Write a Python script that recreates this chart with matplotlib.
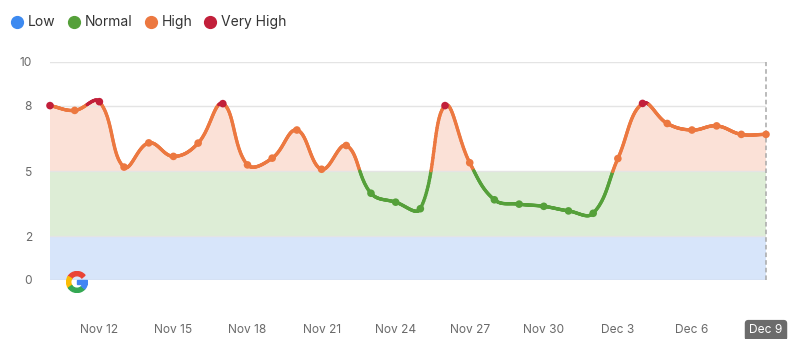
import numpy as np
import pandas as pd
import matplotlib
matplotlib.use("Agg")
import matplotlib.pyplot as plt
from matplotlib.collections import LineCollection
from matplotlib.patches import Wedge, Rectangle
from matplotlib.lines import Line2D

plt.rcParams['font.family'] = ['Inter', 'DejaVu Sans']

# Daily volatility score
dates = pd.date_range("2023-11-10", "2023-12-09", freq="D")
values = [8.0, 7.78, 8.18, 5.18, 6.29, 5.67, 6.28, 8.09, 5.28, 5.59,
          6.88, 5.08, 6.17, 3.98, 3.57, 3.27, 8.0, 5.38, 3.68, 3.48,
          3.38, 3.17, 3.06, 5.57, 8.10, 7.18, 6.88, 7.07, 6.68, 6.68]
tick_dates = dates[2::3]
tick_labels = [f"{d:%b} {d.day}" for d in tick_dates]

legend_labels = ["Low", "Normal", "High", "Very High"]
level_colors = ["#3D8AF0", "#55A03A", "#EC7840", "#C21F3A"]
band_colors = ["#D7E5FA", "#DDEDD6", "#FBE1D7"]
y_ticks = [0, 2, 5, 8, 10]


def level_color(v, hi=8.0):
    if v >= hi:
        return level_colors[3]
    if v > 5:
        return level_colors[2]
    if v > 2:
        return level_colors[1]
    return level_colors[0]


W, H = 800, 339
fig = plt.figure(figsize=(W / 100, H / 100), dpi=100)
ax = fig.add_axes([50 / W, 1 - 280 / H, 716 / W, 218 / H])

x = np.arange(len(values), dtype=float)
y = np.asarray(values, dtype=float)

# Smooth bezier curve through the points (tension 0.4), computed in pixel space
sx, sy = 716 / (len(values) - 1), 21.8
px, py = x * sx, y * sy
tension = 0.4
cp_prev = np.zeros((len(x), 2))
cp_next = np.zeros((len(x), 2))
for i in range(len(x)):
    p = np.array([px[i], py[i]])
    a = np.array([px[max(i - 1, 0)], py[max(i - 1, 0)]])
    b = np.array([px[min(i + 1, len(x) - 1)], py[min(i + 1, len(x) - 1)]])
    d01 = np.hypot(*(p - a))
    d12 = np.hypot(*(b - p))
    tot = d01 + d12 if d01 + d12 > 0 else 1
    fa = tension * d01 / tot
    fb = tension * d12 / tot
    cp_prev[i] = p - fa * (b - a)
    cp_next[i] = p + fb * (b - a)

t = np.linspace(0, 1, 40)[:, None]
curve = []
for i in range(len(x) - 1):
    p0 = np.array([px[i], py[i]])
    p3 = np.array([px[i + 1], py[i + 1]])
    c1, c2 = cp_next[i], cp_prev[i + 1]
    seg = ((1 - t) ** 3) * p0 + 3 * ((1 - t) ** 2) * t * c1 + 3 * (1 - t) * t ** 2 * c2 + t ** 3 * p3
    curve.append(seg if i == 0 else seg[1:])
curve = np.vstack(curve)
cx, cy = curve[:, 0] / sx, curve[:, 1] / sy

# Background bands
ax.axhspan(0, 2, color=band_colors[0], lw=0, zorder=0)
ax.axhspan(2, 5, color=band_colors[1], lw=0, zorder=0)
ax.fill_between(cx, 5, cy, where=cy > 5, interpolate=True,
                color=band_colors[2], lw=0, zorder=0)

# Grid lines
for v in y_ticks:
    ax.axhline(v, color="#cfd5de" if v == 0 else "#e4e4e4", lw=1, zorder=1)
ax.axvline(len(values) - 1, color="#a8a8a8", lw=1.1, ls=(0, (3, 2)),
           zorder=2, clip_on=False)

# Line colored by level
pts = np.column_stack([cx, cy])
segs = np.stack([pts[:-1], pts[1:]], axis=1)
mid = (cy[:-1] + cy[1:]) / 2
seg_colors = [level_color(v, hi=8.05) for v in mid]
ax.add_collection(LineCollection(segs, colors=seg_colors, linewidths=2.4,
                                 capstyle="round", zorder=3))

ax.scatter(x, y, s=30, c=[level_color(v) for v in y], zorder=4,
           clip_on=False, linewidths=0)

ax.set_xlim(0, len(values) - 1)
ax.set_ylim(0, 10)
for s in ax.spines.values():
    s.set_visible(False)

ax.set_yticks(y_ticks)
ax.set_yticklabels([str(v) for v in y_ticks])
tick_pos = [(d - dates[0]).days for d in tick_dates]
ax.set_xticks(tick_pos)
ax.set_xticklabels(tick_labels)
ax.tick_params(axis="both", length=0, colors="#6a6a6a", labelsize=8.6)
ax.tick_params(axis="x", pad=32)
ax.tick_params(axis="y", pad=13)

last = ax.get_xticklabels()[-1]
last.set_color("white")
last.set_bbox(dict(boxstyle="round,pad=0.38,rounding_size=0.3",
                   fc="#6b6b6b", ec="none"))

# Legend
legend_x = [17, 74, 151, 210]
for lx, lab, col in zip(legend_x, legend_labels, level_colors):
    fig.add_artist(Line2D([lx / W], [1 - 22 / H], marker="o", ms=8.5,
                          color=col, lw=0, transform=fig.transFigure))
    fig.text((lx + 11) / W, 1 - 22 / H, lab, fontsize=10, color="#333333",
             va="center", ha="left")

# Google "G" mark
gax = fig.add_axes([(77 - 11) / W, 1 - (282 + 11) / H, 22 / W, 22 / H])
gax.set_xlim(-1, 1)
gax.set_ylim(-1, 1)
gax.set_aspect("equal")
gax.axis("off")
r, wd = 0.95, 0.38
gax.add_patch(Wedge((0, 0), r, 40, 148, width=wd, color="#EA4335"))
gax.add_patch(Wedge((0, 0), r, 148, 215, width=wd, color="#FBBC05"))
gax.add_patch(Wedge((0, 0), r, 215, 318, width=wd, color="#34A853"))
gax.add_patch(Wedge((0, 0), r, 318, 360, width=wd, color="#4285F4"))
gax.add_patch(Rectangle((0.02, -0.2), r - 0.02, 0.36, color="#4285F4"))

fig.savefig("out.png", dpi=100)
